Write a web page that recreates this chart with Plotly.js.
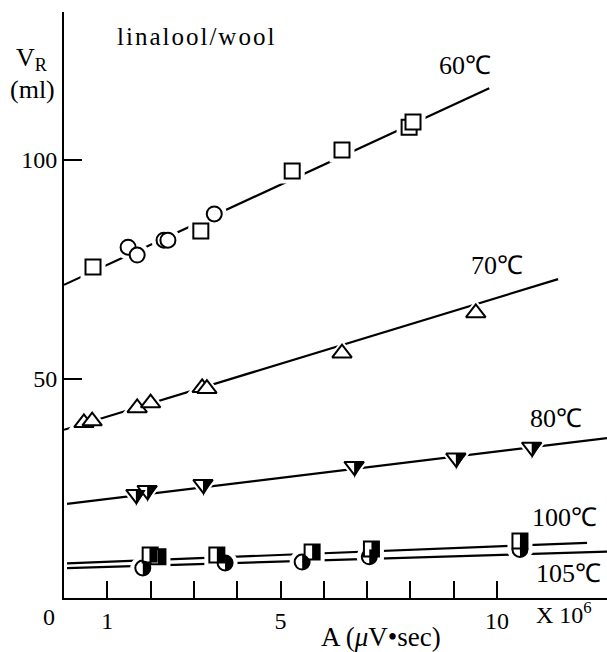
<!DOCTYPE html>
<html><head><meta charset="utf-8">
<script src="https://cdn.plot.ly/plotly-3.0.1.min.js"></script>
<style>
html,body{margin:0;padding:0;background:#fff;}
.annotation[data-index="0"] text{letter-spacing:2px;}
</style>
</head><body>
<div id="chart" style="width:607px;height:652px"></div>
<script>
// ---- data ----
const fit60X = [0, 9.82],     fit60Y = [71.5, 116.4];
const fit70X = [0, 11.41],    fit70Y = [38.4, 72.8];
const fit80X = [0.07, 12.54], fit80Y = [21.5, 36.5];
const fit100X = [0.07, 12.08], fit100Y = [7.9, 12.6];
const fit105X = [0.07, 12.54], fit105Y = [6.8, 10.6];

const sq60X = [0.67, 3.16, 5.27, 6.42, 7.97, 8.06];
const sq60Y = [75.6, 83.8, 97.5, 102.3, 107.5, 108.7];
const ci60X = [1.48, 1.69, 2.31, 2.40, 3.47];
const ci60Y = [80.1, 78.3, 81.7, 81.7, 87.7];
const tri70X = [0.46, 0.65, 1.69, 2.00, 3.19, 3.30, 6.42, 9.51];
const tri70Y = [40.0, 40.4, 43.4, 44.5, 48.0, 47.8, 55.9, 65.1];
const tri80X = [1.66, 1.92, 3.21, 6.70, 9.05, 10.80];
const tri80Y = [23.7, 24.6, 26.0, 30.1, 32.0, 34.5];
const sq100X = [1.99, 2.17, 3.53, 5.73, 7.10, 10.53];
const sq100Y = [9.8, 9.4, 9.8, 10.5, 11.2, 13.0];
const ci105X = [1.82, 3.72, 5.50, 7.05, 10.53];
const ci105Y = [6.85, 8.0, 8.2, 9.4, 11.1];

const xTickVals = [1, 5, 10];
const xTickText = ['1', '5', '10'];
const xMinorVals = [2, 3, 4, 6, 7, 8, 9];
const yTickVals = [50, 100];
const yTickText = ['50', '100'];
const tempLabels = ['60℃', '70℃', '80℃', '100℃', '105℃'];

// ---- styling ----
const FONT = "'Liberation Serif', serif";
const SQ = 15, CI = 15, TR = 17, HALO = 10;

function lineTrace(x, y) {
  return {x: x, y: y, mode: 'lines', type: 'scatter', hoverinfo: 'skip',
          line: {color: '#000', width: 2.2}};
}
function haloTrace(x, y, sym, size) {
  return {x: x, y: y, mode: 'markers', type: 'scatter', hoverinfo: 'skip',
          marker: {symbol: sym, size: size + HALO, color: '#fff', line: {width: 0}}};
}
function markTrace(x, y, sym, size) {
  return {x: x, y: y, mode: 'markers', type: 'scatter',
          marker: {symbol: sym, size: size, color: '#fff', line: {color: '#000', width: 2}}};
}

const traces = [
  lineTrace(fit60X, fit60Y), lineTrace(fit70X, fit70Y), lineTrace(fit80X, fit80Y),
  lineTrace(fit100X, fit100Y), lineTrace(fit105X, fit105Y),
  haloTrace(sq60X, sq60Y, 'square', SQ), haloTrace(ci60X, ci60Y, 'circle', CI),
  haloTrace(tri70X, tri70Y, 'triangle-up', TR), haloTrace(tri80X, tri80Y, 'triangle-down', TR),
  haloTrace(sq100X, sq100Y, 'square', SQ), haloTrace(ci105X, ci105Y, 'circle', CI),
  markTrace(sq60X, sq60Y, 'square', SQ), markTrace(ci60X, ci60Y, 'circle', CI),
  markTrace(tri70X, tri70Y, 'triangle-up', TR), markTrace(tri80X, tri80Y, 'triangle-down', TR),
  markTrace(ci105X, ci105Y, 'circle', CI), markTrace(sq100X, sq100Y, 'square', SQ)
];

// right-half black fills, in pixels relative to each data point
function halfSquare(s) { const r = s / 2; return `M0,${r} L${r},${r} L${r},${-r} L0,${-r} Z`; }
function halfCircle(s) {
  const r = s / 2, k = 0.5523 * r;
  return `M0,${r} C${k},${r} ${r},${k} ${r},0 C${r},${-k} ${k},${-r} 0,${-r} Z`;
}
function halfTriDown(s) {
  const r = s / 2, rt = r * 2 / Math.sqrt(3), r2 = r / 2, rs = r * Math.SQRT2;
  return `M0,${r2} L${rt},${r2} L0,${-rs} Z`;
}
function halfShapes(xs, ys, path) {
  return xs.map((x, i) => ({
    type: 'path', xref: 'x', yref: 'y', xsizemode: 'pixel', ysizemode: 'pixel',
    xanchor: x, yanchor: ys[i], path: path, fillcolor: '#000',
    line: {width: 0}, layer: 'above'
  }));
}
const shapes = [].concat(
  halfShapes(tri80X, tri80Y, halfTriDown(TR)),
  halfShapes(ci105X, ci105Y, halfCircle(CI)),
  halfShapes(sq100X, sq100Y, halfSquare(SQ))
);

function ann(text, x, y, size, ref) {
  return {text: text, x: x, y: y, xref: ref ? 'paper' : 'x', yref: ref ? 'paper' : 'y',
    showarrow: false, xanchor: 'center', yanchor: 'middle',
    font: {family: FONT, size: size, color: '#000'}};
}
const annotations = [
  ann('linalool/wool', 3.05, 128.3, 25),
  ann(tempLabels[0], 9.26, 121.5, 26),
  ann(tempLabels[1], 10.0, 76.0, 26),
  ann(tempLabels[2], 11.36, 40.9, 26),
  ann(tempLabels[3], 11.55, 18.3, 26),
  ann(tempLabels[4], 11.64, 5.5, 26),
  ann('0', -0.0276, -0.0324, 24, true),
  ann('X 10<sup>6</sup>', 0.921, -0.0256, 24, true),
  ann('A (<i>μ</i>V•sec)', 0.584, -0.0665, 27, true),
  ann('V<sub>R</sub>', -0.0589, 0.9198, 26, true),
  ann('(ml)', -0.0589, 0.867, 26, true)
];

const layout = {
  width: 607, height: 652,
  margin: {l: 64, r: 0, t: 12, b: 54, pad: 0},
  paper_bgcolor: '#fff', plot_bgcolor: '#fff', showlegend: false,
  xaxis: {range: [0, 12.54], showline: true, linewidth: 2, linecolor: '#000',
    ticks: 'inside', ticklen: 17, tickwidth: 2, tickcolor: '#000',
    tickmode: 'array', tickvals: xTickVals, ticktext: xTickText,
    minor: {tickmode: 'array', tickvals: xMinorVals, ticks: 'inside', ticklen: 17,
            tickwidth: 2, tickcolor: '#000', showgrid: false},
    showgrid: false, zeroline: false, fixedrange: true,
    tickfont: {family: FONT, size: 24, color: '#000'}},
  yaxis: {range: [0, 133.8], showline: true, linewidth: 2, linecolor: '#000',
    ticks: 'inside', ticklen: 18, tickwidth: 2, tickcolor: '#000',
    tickmode: 'array', tickvals: yTickVals, ticktext: yTickText,
    showgrid: false, zeroline: false, fixedrange: true,
    tickfont: {family: FONT, size: 24, color: '#000'}},
  shapes: shapes,
  annotations: annotations
};

Plotly.newPlot('chart', traces, layout, {displayModeBar: false, staticPlot: true});
</script>
</body></html>
